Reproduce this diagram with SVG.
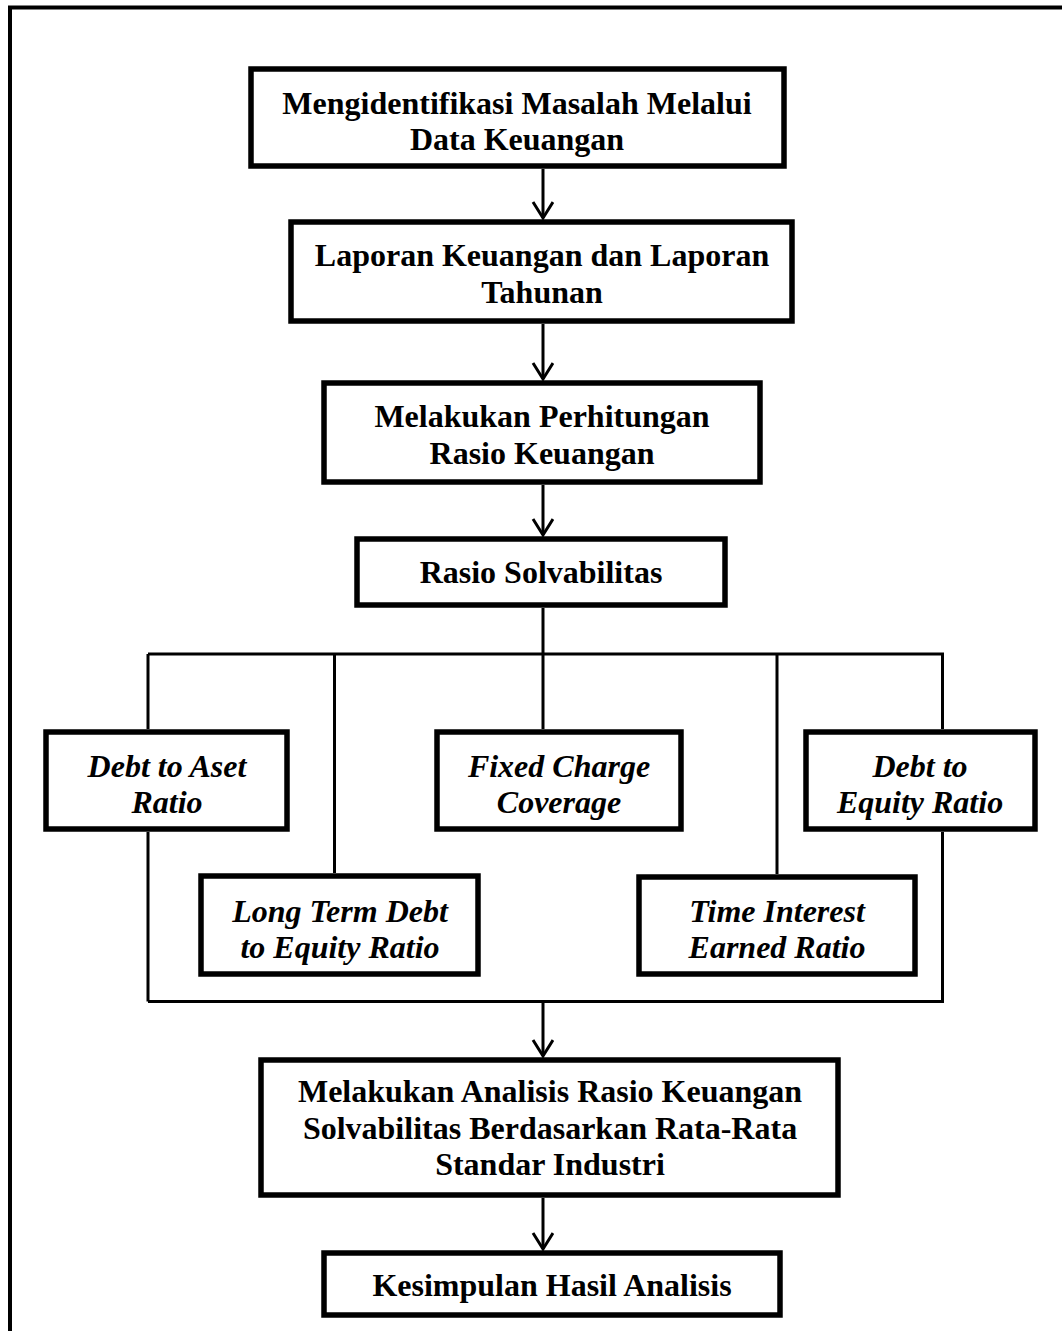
<svg xmlns="http://www.w3.org/2000/svg" width="1062" height="1331" viewBox="0 0 1062 1331">
<style>
.box{fill:#fff;stroke:#000;stroke-width:5.5}
.t{font-family:"Liberation Serif","Times New Roman",serif;font-weight:bold;font-size:32px;text-anchor:middle;fill:#000}
.i{font-style:italic}
.ln{fill:none;stroke:#000;stroke-width:3}
.frame{fill:none;stroke:#000;stroke-width:4}
</style>
<defs>
<marker id="ah" markerUnits="userSpaceOnUse" markerWidth="20" markerHeight="24" refX="17" refY="11" orient="auto" viewBox="0 0 20 24">
<path d="M1,1 L17,11 L1,21" fill="none" stroke="#000" stroke-width="3"/>
</marker>
</defs>
<rect width="1062" height="1331" fill="#fff"/>
<path class="frame" d="M10,1331 V7.5 H1070"/>
<g id="connectors">
<line class="ln" x1="543" y1="169" x2="543" y2="218" marker-end="url(#ah)"/>
<line class="ln" x1="543" y1="324" x2="543" y2="379" marker-end="url(#ah)"/>
<line class="ln" x1="543" y1="485" x2="543" y2="535" marker-end="url(#ah)"/>
<path class="ln" d="M543,608 V654 M148,654 H944 M148,654 V729 M334.5,654 V873 M543,654 V729 M777,654 V874 M942.5,654 V729"/>
<path class="ln" d="M148,832 V1001.5 M942.5,832 V1001.5 M148,1001.5 H944"/>
<line class="ln" x1="543" y1="1001.5" x2="543" y2="1056" marker-end="url(#ah)"/>
<line class="ln" x1="543" y1="1198" x2="543" y2="1249" marker-end="url(#ah)"/>
</g>
<g id="n1"><rect class="box" x="251" y="69" width="533" height="97"/>
<text class="t" x="517" y="114">Mengidentifikasi Masalah Melalui</text>
<text class="t" x="517" y="150">Data Keuangan</text></g>
<g id="n2"><rect class="box" x="291" y="222" width="501" height="99"/>
<text class="t" x="542" y="266">Laporan Keuangan dan Laporan</text>
<text class="t" x="542" y="303">Tahunan</text></g>
<g id="n3"><rect class="box" x="324" y="383" width="436" height="99"/>
<text class="t" x="542" y="427">Melakukan Perhitungan</text>
<text class="t" x="542" y="464">Rasio Keuangan</text></g>
<g id="n4"><rect class="box" x="357" y="539" width="368" height="66"/>
<text class="t" x="541" y="583">Rasio Solvabilitas</text></g>
<g id="n5"><rect class="box" x="46" y="732" width="241" height="97"/>
<text class="t i" x="167" y="777">Debt to Aset</text>
<text class="t i" x="167" y="813">Ratio</text></g>
<g id="n6"><rect class="box" x="437" y="732" width="244" height="97"/>
<text class="t i" x="559" y="777">Fixed Charge</text>
<text class="t i" x="559" y="813">Coverage</text></g>
<g id="n7"><rect class="box" x="806" y="732" width="229" height="97"/>
<text class="t i" x="920" y="777">Debt to</text>
<text class="t i" x="920" y="813">Equity Ratio</text></g>
<g id="n8"><rect class="box" x="201" y="876" width="277" height="98"/>
<text class="t i" x="340" y="922">Long Term Debt</text>
<text class="t i" x="340" y="958">to Equity Ratio</text></g>
<g id="n9"><rect class="box" x="639" y="877" width="276" height="97"/>
<text class="t i" x="777" y="922">Time Interest</text>
<text class="t i" x="777" y="958">Earned Ratio</text></g>
<g id="n10"><rect class="box" x="261" y="1060" width="577" height="135"/>
<text class="t" x="550" y="1102">Melakukan Analisis Rasio Keuangan</text>
<text class="t" x="550" y="1139">Solvabilitas Berdasarkan Rata-Rata</text>
<text class="t" x="550" y="1175">Standar Industri</text></g>
<g id="n11"><rect class="box" x="324" y="1253" width="456" height="62"/>
<text class="t" x="552" y="1296">Kesimpulan Hasil Analisis</text></g>
</svg>
